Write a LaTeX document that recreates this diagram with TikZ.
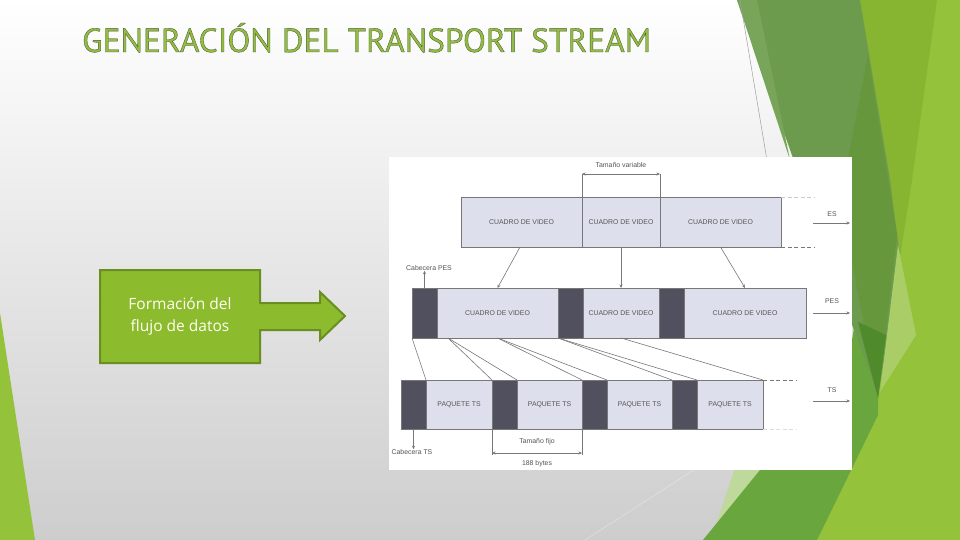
\documentclass[tikz,border=0pt]{standalone}
\usepackage{fontspec}
\setmainfont{Liberation Sans}
\newfontfamily\titlefont[FakeBold=1]{PT Sans}
\newfontfamily\bodyfont{Open Sans}
\usetikzlibrary{arrows.meta,calc}
\definecolor{bggray}{HTML}{CDCDCD}
\definecolor{gbase}{HTML}{94C23B}
\definecolor{gband}{HTML}{87B532}
\definecolor{gdark}{HTML}{6D9B4E}
\definecolor{gstrip}{HTML}{79A55A}
\definecolor{gshade}{HTML}{66973D}
\definecolor{gpale}{HTML}{AACD68}
\definecolor{gmed}{HTML}{6AA63E}
\definecolor{gdeep}{HTML}{4F8A2B}
\definecolor{gsliver}{HTML}{BFD89C}
\definecolor{titlegreen}{HTML}{93BC45}
\definecolor{boxgreen}{HTML}{8CBB2E}
\definecolor{boxedge}{HTML}{6A8E22}
\definecolor{lav}{HTML}{DEDFEC}
\definecolor{hdrc}{HTML}{50505E}
\definecolor{lineg}{HTML}{777777}
\definecolor{txtg}{HTML}{555555}
\newcommand{\diagfont}{\fontsize{6.9}{7.5}\selectfont}
\begin{document}
\begin{tikzpicture}[x=1pt,y=-1pt,
  seg/.style={draw=lineg, line width=0.5pt, inner sep=0pt, outer sep=0pt, anchor=north west, font=\diagfont, text=txtg},
  pay/.style={seg, fill=lav},
  hdr/.style={seg, fill=hdrc},
  lbl/.style={font=\diagfont, text=txtg, inner sep=0pt},
  conn/.style={draw=lineg, line width=0.6pt},
  arr/.style={conn, -{Stealth[length=3.5pt,width=3pt]}},
  dim/.style={conn, {Stealth[length=3.5pt,width=3pt]}-{Stealth[length=3.5pt,width=3pt]}},
  dashln/.style={draw=lineg, line width=0.6pt, dash pattern=on 4pt off 2.5pt}
]
\useasboundingbox (0,0) rectangle (960,540);
% background
\shade[top color=white, bottom color=bggray] (0,0) rectangle (960,540);
\fill[gbase] (0,313) -- (35,540) -- (0,540) -- cycle;
\fill[gbase] (860,0) -- (960,0) -- (960,540) -- (817,540) -- (870,330) -- cycle;
\fill[gband] (860,0) -- (937,0) -- (912,180) -- (900,257) -- cycle;
\fill[gdark] (737,0) -- (860,0) -- (890,180) -- (900,257) -- (878,398) -- cycle;
\fill[gstrip] (737,0) -- (757,0) -- (790,160) -- cycle;
\fill[gshade] (868,55) -- (897,235) -- (878,398) -- (840,200) -- cycle;
\fill[gpale] (898,245) -- (916,335) -- (880,392) -- cycle;
\fill[gsliver] (735,468) -- (764,466) -- (716,525) -- cycle;
\fill[gmed] (703,540) -- (760,470) -- (845,380) -- (854,328) -- (878,398) -- (878,415) -- (817,540) -- cycle;
\fill[gdeep] (858,322) -- (886,335) -- (878,398) -- cycle;
\draw[gray!75, line width=0.5pt] (740,0) -- (772,190);
\draw[white, opacity=0.35, line width=0.6pt] (585,540) -- (700,466);
% title
\node[anchor=base west, inner sep=0pt] (title) at (82,52)
  {\titlefont\fontsize{33.4}{33.4}\selectfont\color{titlegreen}\special{pdf:literal direct 0.29 0.35 0.17 RG}GENERACIÓN DEL TRANSPORT STREAM};
% green box with arrow
\filldraw[fill=boxgreen, draw=boxedge, line width=2pt, line join=miter]
  (100,270) -- (260,270) -- (260,303) -- (320,303) -- (320,292) -- (345,316)
  -- (320,340) -- (320,330) -- (260,330) -- (260,363) -- (100,363) -- cycle;
\node[align=center, text=white!95!yellow, font=\bodyfont\fontsize{15.5}{22}\selectfont, inner sep=0pt] (fb) at (180,316)
  {Formación del\\flujo de datos};
% diagram panel
\fill[white] (389,157) rectangle (852,470);
% ES row
\node[pay, minimum width=121pt, minimum height=50pt] (es1) at (461,197) {CUADRO DE VIDEO};
\node[pay, minimum width=78pt, minimum height=50pt] (es2) at (582,197) {CUADRO DE VIDEO};
\node[pay, minimum width=121pt, minimum height=50pt] (es3) at (660,197) {CUADRO DE VIDEO};
% PES row
\node[hdr, minimum width=25pt, minimum height=50pt] (ph1) at (412,288) {};
\node[pay, minimum width=121pt, minimum height=50pt] (pp1) at (437,288) {CUADRO DE VIDEO};
\node[hdr, minimum width=25pt, minimum height=50pt] (ph2) at (558,288) {};
\node[pay, minimum width=76pt, minimum height=50pt] (pp2) at (583,288) {CUADRO DE VIDEO};
\node[hdr, minimum width=25pt, minimum height=50pt] (ph3) at (659,288) {};
\node[pay, minimum width=122pt, minimum height=50pt] (pp3) at (684,288) {CUADRO DE VIDEO};
% TS row
\node[hdr, minimum width=25pt, minimum height=49pt] (th1) at (401,380) {};
\node[pay, minimum width=66pt, minimum height=49pt] (tp1) at (426,380) {PAQUETE TS};
\node[hdr, minimum width=25pt, minimum height=49pt] (th2) at (492,380) {};
\node[pay, minimum width=65pt, minimum height=49pt] (tp2) at (517,380) {PAQUETE TS};
\node[hdr, minimum width=25pt, minimum height=49pt] (th3) at (582,380) {};
\node[pay, minimum width=65pt, minimum height=49pt] (tp3) at (607,380) {PAQUETE TS};
\node[hdr, minimum width=25pt, minimum height=49pt] (th4) at (672,380) {};
\node[pay, minimum width=66pt, minimum height=49pt] (tp4) at (697,380) {PAQUETE TS};
% dashed continuations
\coordinate (d1) at (815,197);
\coordinate (d2) at (815,247);
\coordinate (d3) at (797,380);
\coordinate (d4) at (797,429);
\draw[dashln, draw=lineg!40] (es3.north east) -- (d1);
\draw[dashln] (es3.south east) -- (d2);
\draw[dashln] (tp4.north east) -- (d3);
\draw[dashln, draw=lineg!25] (tp4.south east) -- (d4);
% ES -> PES arrows
\coordinate (e1) at (520,247);
\draw[arr] (e1) -- (pp1.north);
\draw[arr] (es2.south) -- (es2.south |- pp2.north);
\draw[arr] (es3.south) -- (pp3.north);
% PES -> TS lines
\coordinate (c1) at (448,338);
\draw[conn] (ph1.south west) -- (th1.north east);
\draw[conn] (c1) -- (th2.north west);
\draw[conn] (c1) -- (th2.north east);
\draw[conn] (pp1.south) -- (th3.north west);
\draw[conn] (pp1.south) -- (th3.north east);
\draw[conn] (ph2.south west) -- (th4.north west);
\draw[conn] (ph2.south west) -- (th4.north east);
\draw[conn] (pp2.south) -- (tp4.north east);
% Tamano variable
\coordinate (v1) at (582,174);
\coordinate (v2) at (660,174);
\draw[conn] (es2.north west) -- (v1);
\draw[conn] (es2.north east) -- (v2);
\draw[dim] (v1) -- (v2);
\node[lbl] (tv) at (621,165) {Tamaño variable};
% Tamano fijo
\coordinate (f1) at (492,455);
\coordinate (f2) at (582,455);
\coordinate (g1) at (492,453);
\coordinate (g2) at (582,453);
\draw[conn] (th2.south west) -- (f1);
\draw[conn] (th3.south west) -- (f2);
\draw[dim] (g1) -- (g2);
\node[lbl] (tf) at (537,442) {Tamaño fijo};
\node[lbl] (by) at (537,464) {188 bytes};
% cabeceras
\node[lbl] (cpes) at (429,268) {Cabecera PES};
\draw[arr] (ph1.north) -- (ph1.north |- cpes.south);
\node[lbl] (cts) at (412,452) {Cabecera TS};
\draw[arr] (th1.south) -- (th1.south |- cts.north);
% side labels
\node[lbl] (esl) at (832,214) {ES};
\coordinate (esa1) at (813,223);
\coordinate (esa2) at (850,223);
\draw[arr] (esa1) -- (esa2);
\node[lbl] (pesl) at (832,301) {PES};
\coordinate (pesa1) at (813,313);
\coordinate (pesa2) at (850,313);
\draw[arr] (pesa1) -- (pesa2);
\node[lbl] (tsl) at (832,390) {TS};
\coordinate (tsa1) at (813,401);
\coordinate (tsa2) at (850,401);
\draw[arr] (tsa1) -- (tsa2);
\end{tikzpicture}
\end{document}
